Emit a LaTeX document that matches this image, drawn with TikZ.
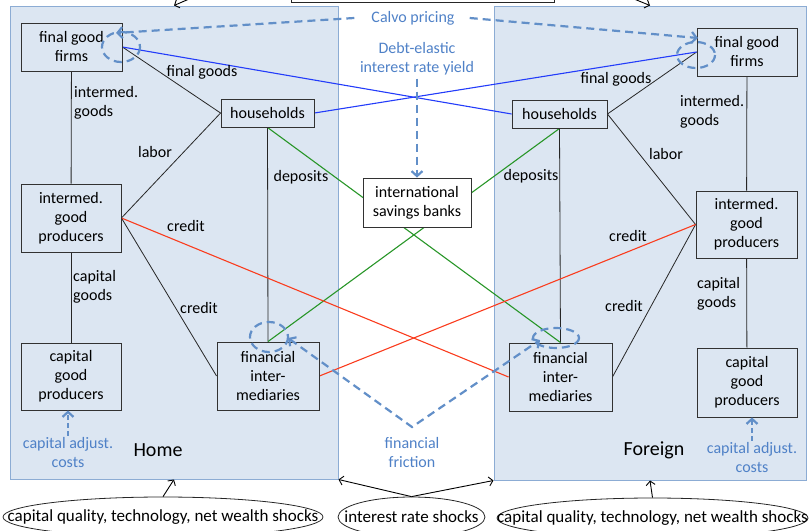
\documentclass[tikz,border=0pt]{standalone}
\usepackage{fontspec}
\setmainfont{Carlito}
\usetikzlibrary{arrows.meta,shapes.geometric}
\definecolor{regionfill}{RGB}{220,230,242}
\definecolor{regiondraw}{RGB}{140,172,212}
\definecolor{annot}{RGB}{79,129,199}
\definecolor{dashcol}{RGB}{98,143,200}
\definecolor{linkblue}{RGB}{35,60,250}
\definecolor{linkred}{RGB}{250,60,30}
\definecolor{linkgreen}{RGB}{40,150,40}
\definecolor{boxdraw}{RGB}{50,50,50}
\pgfdeclarelayer{back}\pgfdeclarelayer{mid}\pgfsetlayers{back,mid,main}
\begin{document}
\begin{tikzpicture}[x=1pt,y=-1pt,font=\fontsize{16}{19}\selectfont,
  region/.style={draw=regiondraw,fill=regionfill,line width=1pt,inner sep=0pt},
  box/.style={draw=boxdraw,line width=0.9pt,fill=regionfill,align=center,inner sep=0pt},
  lab/.style={align=center,inner sep=1pt},
  labl/.style={align=left,inner sep=1pt,anchor=west},
  ann/.style={text=annot,align=center,inner sep=1pt},
  link/.style={draw=black!85,line width=0.8pt},
  clink/.style={line width=1.1pt},
  dashann/.style={draw=dashcol,line width=2.2pt,dash pattern=on 8pt off 5pt},
  dtip/.style={-{Straight Barb[length=5pt,width=11pt]}},
  shock/.style={ellipse,draw=black!85,line width=0.8pt,inner sep=0pt,minimum height=40},
  shocktext/.style={inner sep=0pt,font=\fontsize{17}{20}\selectfont},
  sarrow/.style={draw=black,line width=0.9pt,-{Straight Barb[length=4pt,width=9pt]}}]
\useasboundingbox (0,0) rectangle (810,530);

\begin{pgfonlayer}{back}
\node[region,minimum width=328,minimum height=473] (homebox) at (174,242.5) {};
\node[region,minimum width=312,minimum height=474] (forbox) at (650,243) {};
\end{pgfonlayer}
\node[draw=black!85,line width=0.9pt,fill=white,minimum width=263,minimum height=32,inner sep=0pt] (topbox) at (422.5,-14) {};
\coordinate (tl) at (210,-10);
\coordinate (tr) at (612,-10);

% Home nodes
\node[box,minimum width=101,minimum height=48] (hfg) at (71.5,47) {final good\\firms};
\node[box,minimum width=93,minimum height=28] (hhh) at (267.5,113) {households};
\node[box,minimum width=100,minimum height=68] (hig) at (71,218) {intermed.\\good\\producers};
\node[box,minimum width=100,minimum height=67] (hcg) at (71,376.5) {capital\\good\\producers};
\node[box,minimum width=102,minimum height=68] (hfi) at (268,376) {financial\\inter-\\mediaries};
% International
\node[box,fill=white,minimum width=108,minimum height=49] (isb) at (417,202.5) {international\\savings banks};
% Foreign nodes
\node[box,minimum width=100,minimum height=48] (ffg) at (747,52) {final good\\firms};
\node[box,minimum width=95,minimum height=28] (fhh) at (559.5,114) {households};
\node[box,minimum width=101,minimum height=67] (fig) at (746.5,224.5) {intermed.\\good\\producers};
\node[box,minimum width=100,minimum height=69] (fcg) at (747,382.5) {capital\\good\\producers};
\node[box,minimum width=103,minimum height=68] (ffi) at (560.5,377) {financial\\inter-\\mediaries};

% connectors
\begin{pgfonlayer}{mid}
\draw[link] (hfg) -- (hig);
\draw[link] (hig) -- (hcg);
\draw[link] (hfg.east) -- (hhh.west);
\draw[link] (hhh.west) -- (hig.east);
\draw[link] (hig.east) -- (hfi.west);
\draw[link] (hhh.south) -- (hfi.north);
\draw[link] (ffg) -- (fig);
\draw[link] (fig) -- (fcg);
\draw[link] (fhh.east) -- (ffg.west);
\draw[link] (fhh.east) -- (fig.west);
\draw[link] (fig.west) -- (ffi.east);
\draw[link] (fhh.south) -- (ffi.north);
\draw[clink,draw=linkblue] (hfg.east) -- (fhh.west);
\draw[clink,draw=linkblue] (hhh.east) -- (ffg.west);
\draw[clink,draw=linkgreen] (hhh.south) -- (ffi.north);
\draw[clink,draw=linkgreen] (fhh.south) -- (hfi.north);
\draw[clink,draw=linkred] (hig.east) -- (ffi.west);
\draw[clink,draw=linkred] (fig.west) -- (hfi.east);
\end{pgfonlayer}

% connector labels
\node[lab] at (202,72) {final goods};
\node[labl] at (73,103) {intermed.\\goods};
\node[lab] at (155,152) {labor};
\node[lab] at (301,177) {deposits};
\node[lab] at (186,226) {credit};
\node[labl] at (72,287) {capital\\goods};
\node[lab] at (199,308) {credit};
\node[lab] at (616,79) {final goods};
\node[labl] at (679,112) {intermed.\\goods};
\node[lab] at (666,154) {labor};
\node[lab] at (531,176) {deposits};
\node[lab] at (628,236) {credit};
\node[lab] at (624,306) {credit};
\node[labl] at (696,294) {capital\\goods};

\node[font=\fontsize{20}{24}\selectfont,inner sep=1pt] (homelab) at (158,450) {Home};
\node[font=\fontsize{20}{24}\selectfont,inner sep=1pt] (forlab) at (654,450) {Foreign};

% annotations
\node[ann] (calvo) at (413,18) {Calvo pricing};
\node[ann] (debt) at (417,59) {Debt-elastic\\interest rate yield};
\node[ann] (fric) at (412,452) {financial\\friction};
\node[ann] (cah) at (68,452) {capital adjust.\\costs};
\node[ann] (caf) at (752,457) {capital adjust.\\costs};

\draw[dashann] (121,47) ellipse [x radius=19,y radius=15];
\draw[dashann] (696,55) ellipse [x radius=19,y radius=13];
\draw[dashann] (269,337) ellipse [x radius=19,y radius=15];
\draw[dashann] (556,338) ellipse [x radius=23,y radius=10];

\coordinate (cl) at (116,33);
\coordinate (cr) at (698,38);
\coordinate (fl) at (288,338);
\coordinate (fr) at (540,340);
\coordinate (fv) at (412,427);
\draw[dashann,dtip] ([xshift=-16pt]calvo.west) -- (cl);
\draw[dashann,dtip] ([xshift=14pt]calvo.east) -- (cr);
\draw[dashann,dtip] ([yshift=-2pt]debt.south) -- (isb.north);
\draw[dashann,{Straight Barb[length=5pt,width=11pt]}-{Straight Barb[length=5pt,width=11pt]}] (fl) -- (fv) -- (fr);
\draw[draw=dashcol,line width=2.2pt,dash pattern=on 5pt off 3pt,dtip] (cah.north) -- (cah.north |- hcg.south);
\draw[draw=dashcol,line width=2.2pt,dash pattern=on 5pt off 3pt,dtip] (caf.north) -- (caf.north |- fcg.south);

% shocks
\node[shock,minimum width=320,label={[shocktext]center:capital quality, technology, net wealth shocks}] (lsh) at (163,517) {};
\node[shock,minimum width=147,label={[shocktext]center:interest rate shocks}] (msh) at (411.5,517) {};
\node[shock,minimum width=311,label={[shocktext]center:capital quality, technology, net wealth shocks}] (rsh) at (652.5,518) {};
\draw[sarrow] (lsh.north) -- (homebox.south);
\draw[sarrow] (msh.north) -- (homebox.south east);
\draw[sarrow] (msh.north) -- (forbox.south west);
\draw[sarrow] (rsh.north) -- (forbox.south);
\draw[sarrow] (tl) -- (homebox.north);
\draw[sarrow] (tr) -- (forbox.north);
\end{tikzpicture}
\end{document}
